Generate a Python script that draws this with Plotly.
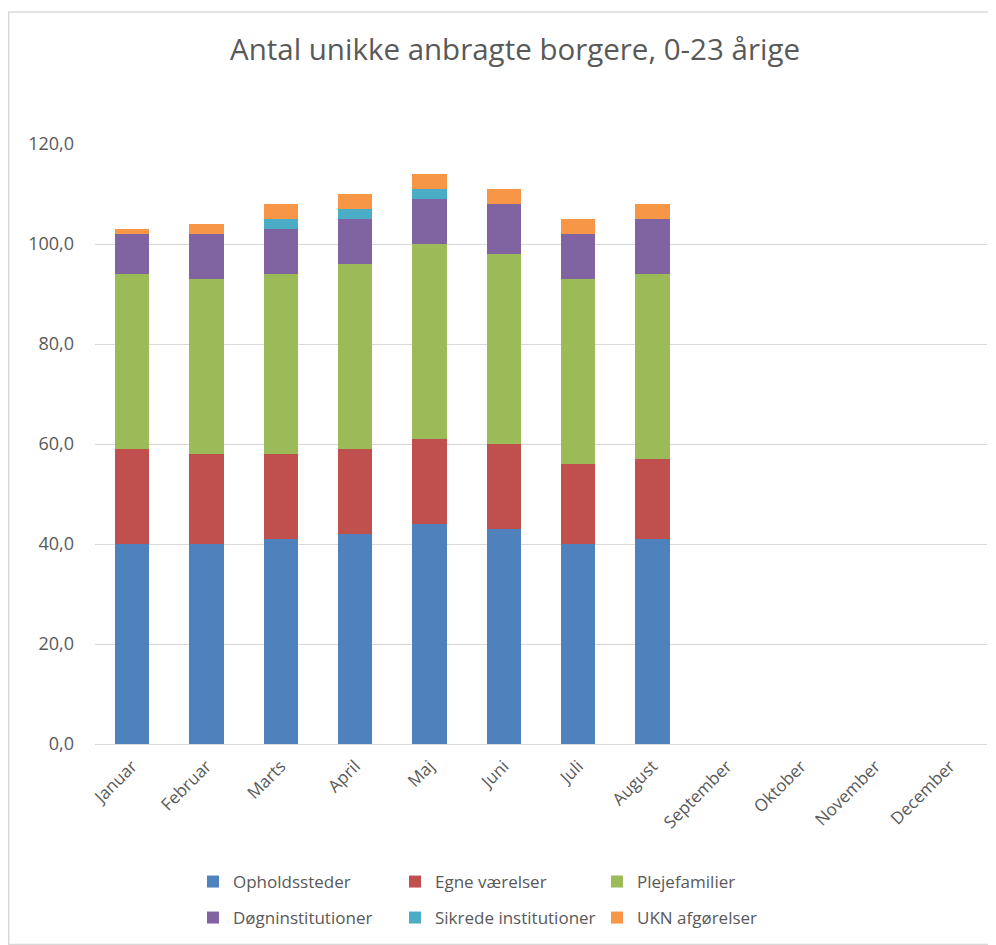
import plotly.graph_objects as go

months = ["Januar", "Februar", "Marts", "April", "Maj", "Juni", "Juli", "August",
          "September", "Oktober", "November", "December"]

opholdssteder = [40, 40, 41, 42, 44, 43, 40, 41, None, None, None, None]
egne_vaerelser = [19, 18, 17, 17, 17, 17, 16, 16, None, None, None, None]
plejefamilier = [35, 35, 36, 37, 39, 38, 37, 37, None, None, None, None]
doegninstitutioner = [8, 9, 9, 9, 9, 10, 9, 11, None, None, None, None]
sikrede_institutioner = [0, 0, 2, 2, 2, 0, 0, 0, None, None, None, None]
ukn_afgoerelser = [1, 2, 3, 3, 3, 3, 3, 3, None, None, None, None]

series = [
    ("Opholdssteder", opholdssteder, "#4F81BD", "legend"),
    ("Egne værelser", egne_vaerelser, "#C0504D", "legend"),
    ("Plejefamilier", plejefamilier, "#9BBB59", "legend"),
    ("Døgninstitutioner", doegninstitutioner, "#8064A2", "legend2"),
    ("Sikrede institutioner", sikrede_institutioner, "#4BACC6", "legend2"),
    ("UKN afgørelser", ukn_afgoerelser, "#F79646", "legend2"),
]

FONT = "Open Sans"
GRAY = "#595959"

# figure coordinates (page is offset by the 8px body margin)
W, H = 988, 937
ML, MR, MT, MB = 87, 9, 136, 201
PW, PH = W - ML - MR, H - MT - MB

fig = go.Figure()
for name, vals, color, lg in series:
    fig.add_trace(go.Bar(name=name, x=months, y=vals, marker_color=color,
                         marker_line_width=0, legend=lg))

legend_common = dict(orientation="h", xanchor="left", yanchor="middle",
                     entrywidth=157, entrywidthmode="pixels",
                     font=dict(family=FONT, size=17, color=GRAY),
                     traceorder="normal", itemwidth=30, bgcolor="rgba(0,0,0,0)")

fig.update_layout(
    barmode="stack",
    bargap=0.54,
    width=W, height=H,
    autosize=False,
    margin=dict(l=ML, r=MR, t=MT, b=MB, autoexpand=False),
    paper_bgcolor="white",
    plot_bgcolor="white",
    separators=",.",
    font=dict(family=FONT, color=GRAY, size=15),
    title=dict(text="Antal unikke anbragte borgere, 0-23 årige",
               x=507 / W, xanchor="center", y=1 - 42 / H, yanchor="middle",
               font=dict(family=FONT, size=29.5, color=GRAY)),
    yaxis=dict(range=[0, 120], dtick=20, tickformat=".1f",
               showgrid=True, gridcolor="#d9d9d9", gridwidth=1,
               zeroline=True, zerolinecolor="#d9d9d9", zerolinewidth=1,
               ticks="", ticklabelstandoff=20, automargin=False,
               tickfont=dict(family=FONT, size=18, color=GRAY)),
    xaxis=dict(tickangle=-45, ticks="", showline=False, automargin=False,
               ticklabelstandoff=8,
               tickfont=dict(family=FONT, size=17, color=GRAY)),
    legend=dict(x=(185 - ML) / PW, y=(MT + PH - 874) / PH, **legend_common),
    legend2=dict(x=(185 - ML) / PW, y=(MT + PH - 910) / PH, **legend_common),
    shapes=[dict(type="rect", xref="paper", yref="paper",
                 x0=(0.75 - ML) / PW, x1=(987 - ML) / PW,
                 y0=(MT + PH - 936.5) / PH, y1=(MT + PH - 4) / PH,
                 line=dict(color="#d9d9d9", width=1.5), fillcolor="rgba(0,0,0,0)",
                 layer="below")],
)

fig.write_html("out.html")
